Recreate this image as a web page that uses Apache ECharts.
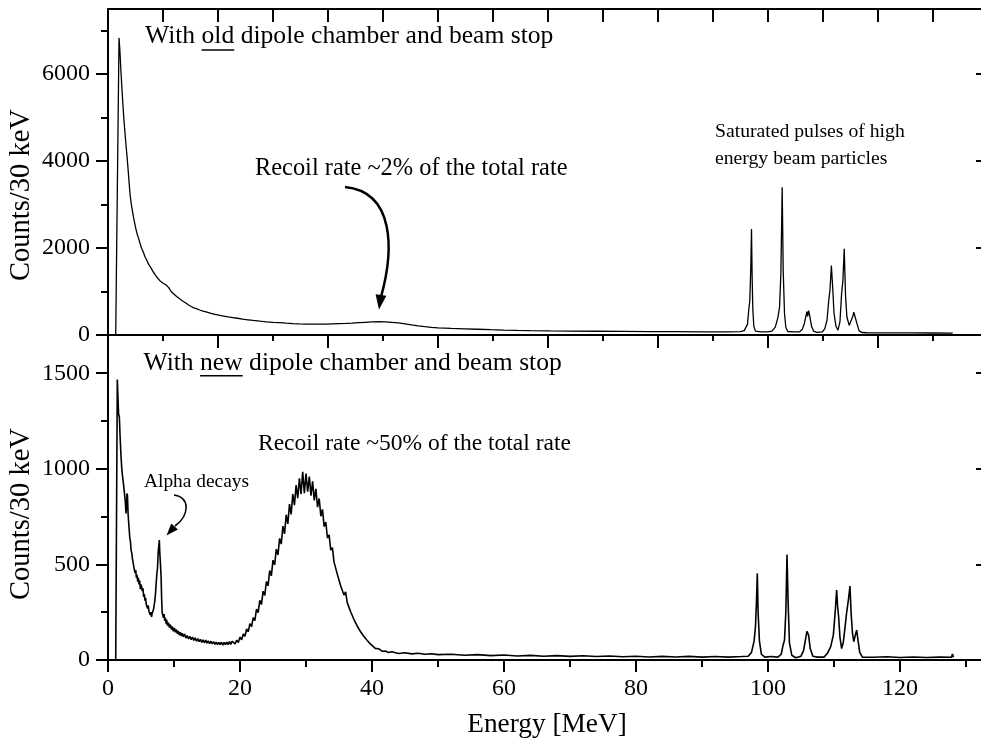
<!DOCTYPE html>
<html><head><meta charset="utf-8">
<script src="https://cdn.jsdelivr.net/npm/echarts@6/dist/echarts.min.js"></script>
<style>html,body{margin:0;padding:0;background:#fff}#c{width:981px;height:740px}</style>
</head><body><div id="c"></div>
<script>
// ---------- DATA ----------
// Top panel: old dipole chamber (energy MeV, counts/30 keV)
const topSpectrum = [
[1.17,0],[1.67,6835],[1.8,6550],[1.95,6100],[2.1,5700],[2.3,5200],[2.45,4880],[2.6,4600],[2.75,4330],[2.9,4080],[3.05,3800],[3.2,3500],[3.35,3220],[3.5,3040],[3.65,2900],[3.85,2720],[4.0,2610],[4.2,2460],[4.4,2330],[4.6,2240],[4.85,2110],[5.1,1990],[5.35,1910],[5.6,1800],[5.85,1730],[6.1,1640],[6.36,1580],[6.6,1520],[6.85,1450],[7.1,1400],[7.35,1340],[7.6,1300],[7.85,1250],[8.1,1220],[8.35,1190],[8.6,1165],[8.8,1150],[9.0,1160],[9.2,1090],[9.5,1015],[9.8,965],[10.1,920],[10.4,885],[10.7,850],[11.0,815],[11.4,770],[11.8,735],[12.2,690],[12.6,655],[13.0,625],[13.4,605],[13.9,575],[14.4,550],[15.0,525],[15.6,495],[16.2,475],[16.8,455],[17.5,435],[18.2,415],[18.9,400],[19.6,385],[20.4,365],[21.2,350],[22.0,335],[23.0,318],[24.0,303],[25.0,292],[26.0,283],[27.0,273],[28.0,264],[29.0,256],[30.0,251],[31.0,249],[32.0,248],[33.0,251],[34.0,256],[35.0,261],[36.0,266],[37.0,273],[38.0,283],[39.0,292],[40.0,300],[41.0,305],[42.0,301],[43.0,292],[44.0,278],[45.0,258],[46.0,233],[47.0,211],[48.0,192],[49.0,177],[50.0,166],[52.0,151],[54.0,141],[56.0,132],[58.0,122],[60.0,113],[62.0,106],[64.0,100],[67.0,94],[70.0,90],[74.0,86],[78.0,82],[82.0,79],[86.0,76],[90.0,74],[94.0,74],[95.8,78],[96.4,100],[96.9,250],[97.1,600],[97.25,800],[97.4,1600],[97.5,2441],[97.6,1300],[97.7,600],[97.85,200],[98.1,90],[99.0,72],[100.0,72],[100.6,90],[101.1,180],[101.5,400],[101.75,640],[101.95,1400],[102.15,3398],[102.3,1500],[102.5,500],[102.7,180],[103.0,80],[104.0,70],[104.8,75],[105.2,130],[105.5,260],[105.75,440],[105.9,540],[106.0,430],[106.15,560],[106.35,420],[106.6,200],[106.9,90],[107.4,62],[108.2,70],[108.6,140],[108.95,350],[109.2,793],[109.4,1050],[109.6,1598],[109.8,1100],[110.0,500],[110.3,200],[110.6,110],[110.9,300],[111.15,947],[111.35,1250],[111.55,1981],[111.75,900],[111.95,420],[112.3,220],[112.6,210],[112.85,430],[113.0,524],[113.15,480],[113.3,530],[113.5,250],[113.8,100],[114.2,58],[115,52],[118,50],[122,48],[125,46],[128,45]
];
// Bottom panel: new dipole chamber (energy MeV, counts/30 keV)
const bottomSpectrum = [
[1.17,0],[1.41,1467],[1.5,1380],[1.6,1290],[1.72,1271],[1.82,1180],[1.95,1080],[2.07,1010],[2.2,960],[2.35,920],[2.5,870],[2.62,830],[2.73,766],[2.8,800],[2.88,871],[2.95,860],[3.05,760],[3.18,696],[3.3,640],[3.4,620],[3.5,575],[3.6,560],[3.7,530],[3.8,520],[3.9,490],[4.0,500],[4.1,455],[4.2,470],[4.3,430],[4.4,445],[4.5,410],[4.6,430],[4.7,395],[4.8,415],[4.9,370],[5.0,395],[5.1,383],[5.2,360],[5.3,375],[5.4,330],[5.5,345],[5.6,310],[5.7,325],[5.8,290],[5.9,300],[6.0,270],[6.1,285],[6.2,255],[6.3,265],[6.4,235],[6.5,250],[6.6,225],[6.7,245],[6.8,240],[6.9,265],[7.0,270],[7.1,310],[7.2,350],[7.3,400],[7.4,450],[7.5,480],[7.6,560],[7.7,600],[7.78,627],[7.85,560],[7.95,500],[8.05,430],[8.12,330],[8.2,250],[8.3,260],[8.4,220],[8.5,240],[8.6,205],[8.7,220],[8.8,190],[8.9,210],[9.0,180],[9.15,195],[9.3,170],[9.45,185],[9.6,160],[9.75,175],[9.9,150],[10.05,168],[10.2,145],[10.35,160],[10.5,138],[10.65,152],[10.8,130],[10.95,145],[11.1,125],[11.25,140],[11.4,122],[11.6,136],[11.8,115],[12.0,128],[12.2,110],[12.4,124],[12.6,106],[12.8,120],[13.0,102],[13.2,116],[13.4,98],[13.6,112],[13.8,96],[14.0,108],[14.2,92],[14.4,106],[14.6,90],[14.8,104],[15.0,88],[15.2,100],[15.4,86],[15.6,98],[15.8,84],[16.0,96],[16.2,82],[16.4,94],[16.6,80],[16.8,92],[17.0,80],[17.2,93],[17.4,78],[17.6,92],[17.8,80],[18.0,94],[18.2,80],[18.4,96],[18.6,82],[18.8,98],
[19.0,95],[19.25,84],[19.5,104],[19.75,92],[20.0,120],[20.25,106],[20.5,136],[20.75,124],[21.0,162],[21.25,148],[21.5,190],[21.75,174],[22.0,222],[22.25,206],[22.5,266],[22.75,248],[23.0,312],[23.25,290],[23.5,360],[23.75,338],[24.0,410],[24.25,388],[24.5,468],[24.75,440],[25.0,522],[25.25,498],[25.5,580],[25.75,550],[26.0,636],[26.25,606],[26.5,700],[26.75,660],[27.0,760],[27.25,712],[27.5,815],[27.75,762],[28.0,868],[28.25,810],[28.5,915],[28.75,846],[29.0,950],[29.25,868],[29.5,985],[29.75,872],[30.0,975],[30.25,880],[30.5,960],[30.75,860],[31.0,935],[31.25,835],[31.5,895],[31.75,800],[32.0,845],[32.25,752],[32.5,788],[32.75,698],[33.0,722],[33.25,638],[33.5,655],[33.75,575],[34.0,588],[34.25,512],[34.5,520],[34.75,448],[35.0,454],[35.25,388],[35.5,392],[35.75,340],[36.0,356],[36.25,300],[36.5,304],[36.75,254],[37.0,258],[37.25,213],[37.5,216],[37.75,178],[38.0,182],[38.25,149],[38.5,153],[38.75,124],[39.0,127],[39.25,103],[39.5,104],[39.75,84],[40.0,85],[40.5,61],[41.0,59],[41.5,46],[42.0,47],[42.5,39],[43.0,43],[44.0,34],[45.0,38],
[46,32],[47,35],[48,30],[49,33],[50,28],[52,30],[54,25],[56,28],[58,23],[60,26],[62,21],[64,24],[66,20],[68,23],[70,19],[72,22],[74,18],[76,21],[78,17],[80,20],[82,16],[84,19],[86,16],[88,19],[90,15],[92,18],[94,15],[96,18],[97.0,20],[97.5,40],[97.9,100],[98.1,174],[98.25,300],[98.38,453],[98.5,250],[98.7,100],[99.0,30],[99.5,15],[100.5,18],[101.5,15],[102.0,30],[102.3,80],[102.5,104],[102.7,250],[102.88,552],[103.05,300],[103.25,90],[103.6,25],[104.2,12],[105.0,20],[105.4,50],[105.7,110],[105.9,150],[106.0,160],[106.15,130],[106.4,60],[106.8,20],[107.5,15],[108.5,15],[109.0,35],[109.5,70],[109.9,130],[110.2,260],[110.4,366],[110.55,280],[110.7,226],[110.9,120],[111.15,60],[111.4,90],[111.7,180],[111.9,244],[112.2,320],[112.42,387],[112.6,240],[112.8,140],[113.0,96],[113.2,125],[113.44,157],[113.65,100],[113.9,40],[114.3,15],[116,14],[118,17],[120,13],[122,16],[124,13],[126,15],[127.8,14],[127.95,32],[128.1,14]
];
// Tick values
const topYTicks = [0, 2000, 4000, 6000];
const topYMinor = [1000, 3000, 5000, 7000];
const bottomYTicks = [0, 500, 1000, 1500];
const bottomYMinor = [250, 750, 1250];
const xTicks = [0, 20, 40, 60, 80, 100, 120];
const xMinor = [10, 30, 50, 70, 90, 110, 130];
const topXMajor = [0, 16.667, 33.333, 50, 66.667, 83.333, 100, 116.667];
const topXMinor = [8.333, 25, 41.667, 58.333, 75, 91.667, 108.333, 125];
const topXTop = [8.333, 16.667, 25, 33.333, 41.667, 50, 58.333, 66.667, 75, 83.333, 91.667, 100, 108.333, 116.667, 125];

// ---------- LAYOUT ----------
const FONT = '"Liberation Serif", "Times New Roman", serif';
const GL = 108, GW = 874;
const XMAX = GW / 6.6;
const BLACK = '#000';

const mctx = document.createElement('canvas').getContext('2d');
function tw(s, size) { mctx.font = size + 'px ' + FONT; return mctx.measureText(s).width; }

function xAx(grid, pos, major, len, inside, showLine, labels) {
  return {
    type: 'value', gridIndex: grid, position: pos, min: 0, max: XMAX,
    axisLine: { show: showLine, onZero: false, lineStyle: { color: BLACK, width: 2 } },
    axisTick: { show: true, inside: inside, length: len, customValues: major, lineStyle: { color: BLACK, width: 2 } },
    axisLabel: labels ? { show: true, customValues: major, color: BLACK, fontFamily: FONT, fontSize: 24, margin: 17, formatter: v => String(v) } : { show: false },
    splitLine: { show: false }
  };
}
function yAx(grid, pos, max, major, len, inside, showLine, labels) {
  return {
    type: 'value', gridIndex: grid, position: pos, min: 0, max: max,
    axisLine: { show: showLine, onZero: false, lineStyle: { color: BLACK, width: 2 } },
    axisTick: { show: true, inside: inside, length: len, customValues: major, lineStyle: { color: BLACK, width: 2 } },
    axisLabel: labels ? { show: true, customValues: major, color: BLACK, fontFamily: FONT, fontSize: 24, margin: 18, formatter: v => String(v) } : { show: false },
    splitLine: { show: false }
  };
}

const TITLE = 25.6;
const t1x = 145, t2x = 143.5;
const oldX0 = t1x + tw('With ', TITLE), oldW = tw('old', TITLE);
const newX0 = t2x + tw('With ', TITLE), newW = tw('new', TITLE);

function txt(s, x, y, size, extra) {
  return Object.assign({ type: 'text', x: x, y: y, silent: true,
    style: { text: s, font: size + 'px ' + FONT, fill: BLACK, align: 'left', verticalAlign: 'middle' } }, extra || {});
}

const graphic = [
  txt('With old dipole chamber and beam stop', t1x, 36.5, TITLE),
  { type: 'line', silent: true, shape: { x1: oldX0, y1: 50, x2: oldX0 + oldW, y2: 50 }, style: { stroke: BLACK, lineWidth: 1.5 } },
  txt('With new dipole chamber and beam stop', t2x, 363.1, TITLE),
  { type: 'line', silent: true, shape: { x1: newX0, y1: 375.7, x2: newX0 + newW, y2: 375.7 }, style: { stroke: BLACK, lineWidth: 1.5 } },
  txt('Recoil rate ~2% of the total rate', 255, 168.4, 24.4),
  txt('Recoil rate ~50% of the total rate', 258, 443.6, 23.5),
  txt('Saturated pulses of high', 715, 131.7, 19.7),
  txt('energy beam particles', 715, 158.4, 19.7),
  txt('Alpha decays', 144, 481.8, 19.4),
  { type: 'text', x: 547, y: 725, silent: true, style: { text: 'Energy [MeV]', font: '27.3px ' + FONT, fill: BLACK, align: 'center', verticalAlign: 'middle' } },
  { type: 'text', x: 22, y: 195, rotation: Math.PI / 2, silent: true, style: { text: 'Counts/30 keV', font: '28.5px ' + FONT, fill: BLACK, align: 'center', verticalAlign: 'middle' } },
  { type: 'text', x: 22, y: 514, rotation: Math.PI / 2, silent: true, style: { text: 'Counts/30 keV', font: '28.5px ' + FONT, fill: BLACK, align: 'center', verticalAlign: 'middle' } },
  // top arrow
  { type: 'bezierCurve', silent: true, shape: { x1: 345, y1: 187, cpx1: 395, cpy1: 192, cpx2: 394, cpy2: 250, x2: 381, y2: 297 }, style: { stroke: BLACK, lineWidth: 2.5, fill: null } },
  { type: 'polygon', silent: true, shape: { points: [[379, 309.5], [386.4, 295.8], [375.6, 294.2]] }, style: { fill: BLACK } },
  // alpha arrow
  { type: 'bezierCurve', silent: true, shape: { x1: 174, y1: 495, cpx1: 190, cpy1: 497, cpx2: 190, cpy2: 515, x2: 175, y2: 526 }, style: { stroke: BLACK, lineWidth: 1.6, fill: null } },
  { type: 'polygon', silent: true, shape: { points: [[166.5, 535.5], [177.9, 529.6], [171.3, 523.6]] }, style: { fill: BLACK } }
];

const option = {
  animation: false,
  backgroundColor: '#fff',
  grid: [
    { left: GL, top: 9, width: GW, height: 326, containLabel: false, outerBoundsMode: 'none' },
    { left: GL, top: 335, width: GW, height: 325, containLabel: false, outerBoundsMode: 'none' }
  ],
  xAxis: [
    xAx(0, 'bottom', topXMajor, 13, false, true, false),
    xAx(0, 'bottom', topXMinor, 6, false, false, false),
    xAx(0, 'top', topXTop, 13, true, true, false),
    xAx(1, 'bottom', xTicks, 12, false, true, true),
    xAx(1, 'bottom', xMinor, 7, false, false, false)
  ],
  yAxis: [
    yAx(0, 'left', 7500, topYTicks, 12, false, true, true),
    yAx(0, 'left', 7500, topYMinor, 7, false, false, false),
    yAx(0, 'right', 7500, topYTicks, 6, true, true, false),
    yAx(1, 'left', 1700, bottomYTicks, 12, false, true, true),
    yAx(1, 'left', 1700, bottomYMinor, 7, false, false, false),
    yAx(1, 'right', 1700, bottomYTicks, 6, true, true, false)
  ],
  series: [
    { type: 'line', xAxisIndex: 0, yAxisIndex: 0, data: topSpectrum, showSymbol: false, symbol: 'none',
      lineStyle: { color: BLACK, width: 1.3 }, silent: true },
    { type: 'line', xAxisIndex: 3, yAxisIndex: 3, data: bottomSpectrum, showSymbol: false, symbol: 'none',
      lineStyle: { color: BLACK, width: 1.6 }, silent: true }
  ],
  graphic: graphic
};
const chart = echarts.init(document.getElementById('c'), null, { renderer: 'canvas' });
chart.setOption(option);
</script>
</body></html>
